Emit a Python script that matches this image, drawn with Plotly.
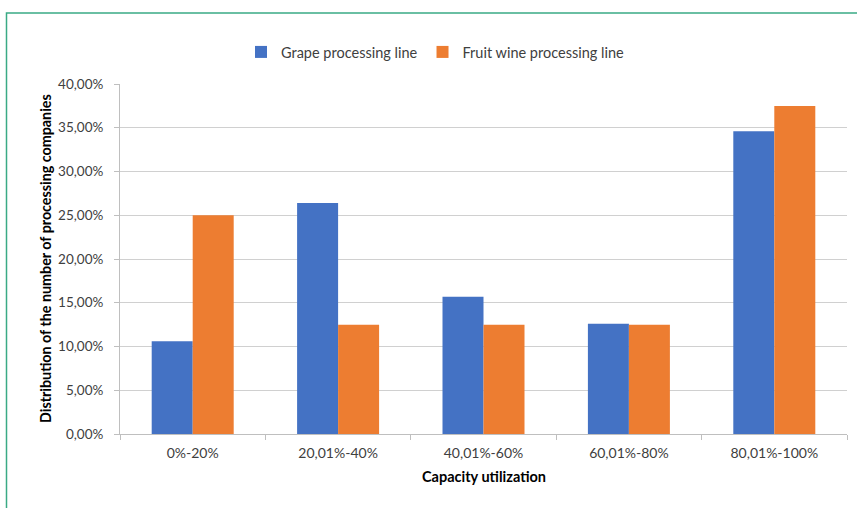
import plotly.graph_objects as go

# Capacity utilization bands and share of processing companies (fractions)
categories = ["0%-20%", "20,01%-40%", "40,01%-60%", "60,01%-80%", "80,01%-100%"]
grape_line = [0.106, 0.264, 0.157, 0.126, 0.346]
fruit_wine_line = [0.25, 0.125, 0.125, 0.125, 0.375]

font_family = "Lato, 'Open Sans', sans-serif"

fig = go.Figure()
fig.add_trace(go.Bar(
    name="Grape processing line", x=categories, y=grape_line,
    marker=dict(color="#4472C4", line=dict(width=0)),
))
fig.add_trace(go.Bar(
    name="Fruit wine processing line", x=categories, y=fruit_wine_line,
    marker=dict(color="#ED7D31", line=dict(width=0)),
))

fig.update_layout(
    width=857, height=508,
    margin=dict(l=120, r=10, t=84, b=74, autoexpand=False),
    paper_bgcolor="white", plot_bgcolor="white",
    separators=",.",
    barmode="group", bargap=0.436, bargroupgap=0,
    font=dict(family=font_family, size=13, color="#404040"),
    legend=dict(
        orientation="h", x=0.434, xanchor="center",
        y=(508 - 52) / 508, yref="container", yanchor="middle",
        font=dict(size=14.5, color="#404040"),
        itemwidth=30, traceorder="normal",
    ),
    showlegend=True,
    xaxis=dict(
        type="category", tickson="boundaries", ticks="outside", ticklen=5,
        tickcolor="#bfbfbf", showline=True, linecolor="#bfbfbf", linewidth=1,
        showgrid=False, tickfont=dict(size=14, color="#404040"),
        ticklabelstandoff=6,
    ),
    yaxis=dict(
        range=[0, 0.4], dtick=0.05, tickformat=".2%",
        showgrid=True, gridcolor="#d0d0d0", gridwidth=1,
        showline=True, linecolor="#bfbfbf", linewidth=1,
        ticks="outside", ticklen=5, tickcolor="#bfbfbf",
        zeroline=False, tickfont=dict(size=13.5, color="#404040"),
        ticklabelstandoff=8,
    ),
)

# Axis titles
fig.add_annotation(
    text="<b>Distribution of the number of processing companies</b>",
    xref="paper", yref="paper", x=(45 - 120) / 727, y=0.5, textangle=-90,
    xanchor="center", yanchor="middle",
    showarrow=False, font=dict(size=14.3, color="#000000"),
)
fig.add_annotation(
    text="<b>Capacity utilization</b>",
    xref="paper", yref="paper", x=0.5, y=(434 - 476) / 350, yanchor="middle",
    showarrow=False, font=dict(size=14.5, color="#000000"),
)

# Frame line along the left and top edges
fig.add_shape(
    type="rect", xref="paper", yref="paper",
    x0=(6.5 - 120) / 727, x1=1.2, y0=-0.5, y1=(434 - 13) / 350,
    line=dict(color="#3aaa85", width=1.5), fillcolor="rgba(0,0,0,0)", layer="below",
)

fig.write_html("out.html")
